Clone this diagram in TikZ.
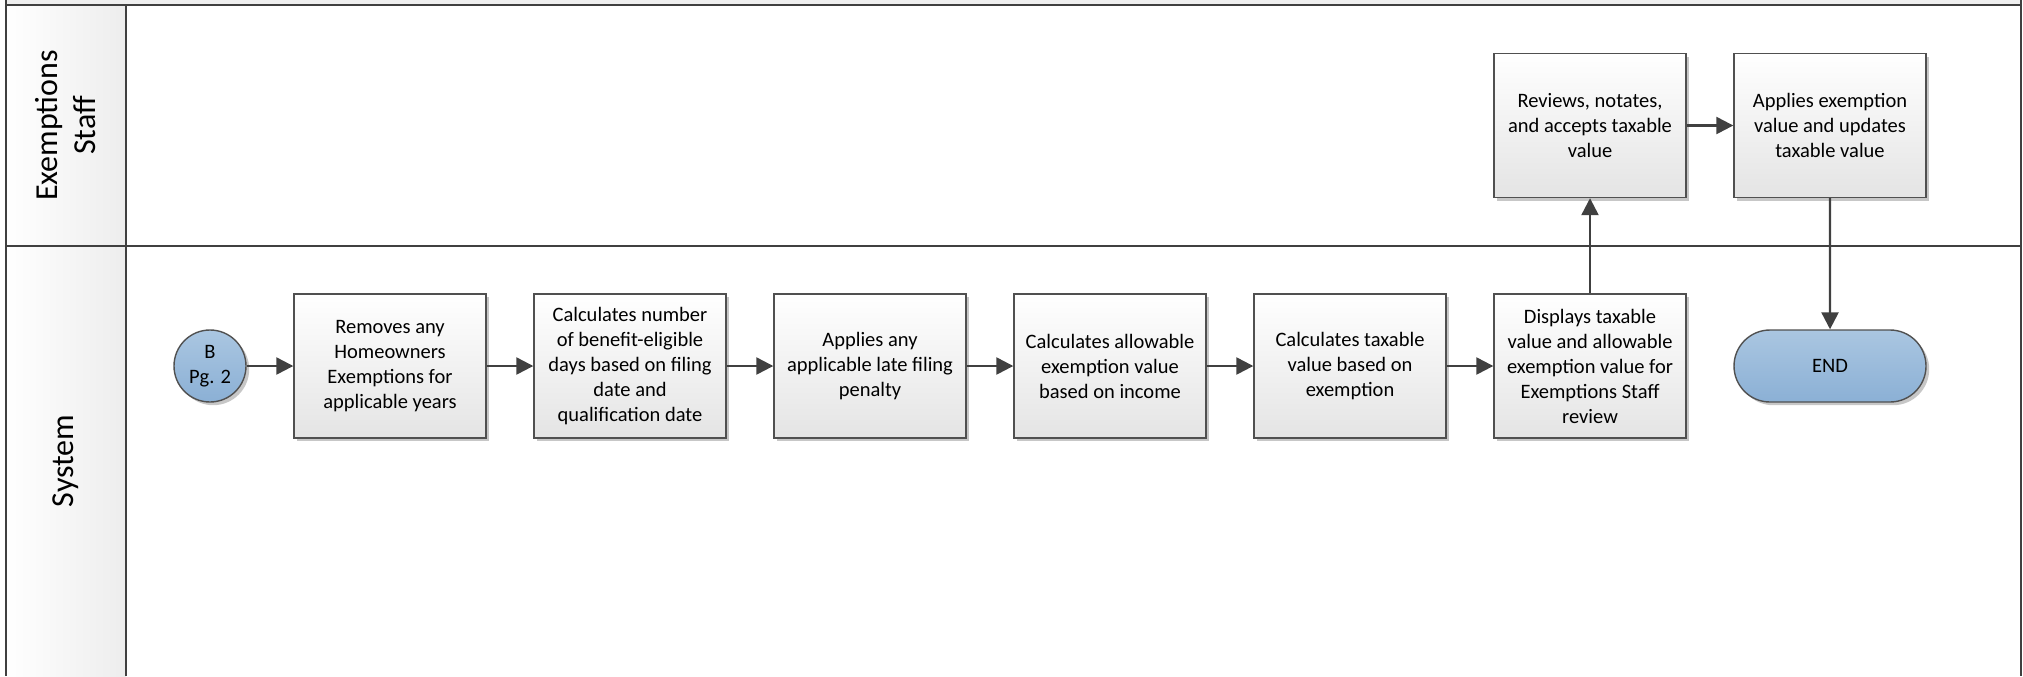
\documentclass[tikz,border=0pt]{standalone}
\usepackage{fontspec}
\setmainfont{Carlito}
\usetikzlibrary{arrows.meta,shadows,shapes.misc}
\definecolor{lineC}{HTML}{404040}
\definecolor{boxBorder}{HTML}{505050}
\definecolor{boxB}{HTML}{E4E4E4}
\definecolor{blueT}{HTML}{AAC6E1}
\definecolor{blueB}{HTML}{8BB0D5}
\definecolor{hdr}{HTML}{EFEFEF}
\definecolor{laneR}{HTML}{EDEDED}
\begin{document}
\begin{tikzpicture}[x=0.5pt,y=-0.5pt,
  frame/.style={draw=lineC, line width=0.9pt},
  boxfont/.style={font=\fontsize{10.25}{12.5}\selectfont},
  proc/.style={boxfont, draw=boxBorder, line width=0.7pt, top color=white, bottom color=boxB,
    minimum width=96pt, minimum height=72pt, align=center, inner sep=0pt,
    drop shadow={shadow xshift=1.6pt, shadow yshift=-1.6pt, opacity=0.22, fill=black}},
  term/.style={boxfont, draw=boxBorder, line width=0.7pt, top color=blueT, bottom color=blueB,
    align=center, inner sep=0pt,
    drop shadow={shadow xshift=1.6pt, shadow yshift=-1.6pt, opacity=0.22, fill=black}},
  lane/.style={font=\fontsize{16}{19}\selectfont, align=center, rotate=90},
  conn/.style={draw=lineC, line width=1.2pt, -{Triangle[length=8.5pt,width=8.5pt]}}
]
\useasboundingbox (0,0) rectangle (2023,676);
% pool / lanes
\fill[hdr] (6,0) rectangle (2021,5);
\shade[left color=white, right color=laneR] (6,5) rectangle (126,676);
\draw[frame] (6,0) -- (6,676);
\draw[frame] (2021,0) -- (2021,676);
\draw[frame] (126,5) -- (126,676);
\draw[frame] (6,5) -- (2021,5);
\draw[frame] (6,246) -- (2021,246);
\node[lane] (l1) at (66,125.5) {Exemptions\\Staff};
\node[lane] (l2) at (66,461) {System};
% nodes
\node[term, circle, minimum size=36pt] (b) at (210,366) {B\\Pg. 2};
\node[proc] (p1) at (390,366) {Removes any\\Homeowners\\Exemptions for\\applicable years};
\node[proc] (p2) at (630,366) {Calculates number\\of benefit-eligible\\days based on filing\\date and\\qualification date};
\node[proc] (p3) at (870,366) {Applies any\\applicable late filing\\penalty};
\node[proc] (p4) at (1110,366) {Calculates allowable\\exemption value\\based on income};
\node[proc] (p5) at (1350,366) {Calculates taxable\\value based on\\exemption};
\node[proc] (p6) at (1590,366) {Displays taxable\\value and allowable\\exemption value for\\Exemptions Staff\\review};
\node[proc] (r1) at (1590,125.5) {Reviews, notates,\\and accepts taxable\\value};
\node[proc] (r2) at (1830,125.5) {Applies exemption\\value and updates\\taxable value};
\node[term, rounded rectangle, minimum width=96pt, minimum height=36pt] (e) at (1830,366) {END};
% connectors
\draw[conn] (b) -- (p1);
\draw[conn] (p1) -- (p2);
\draw[conn] (p2) -- (p3);
\draw[conn] (p3) -- (p4);
\draw[conn] (p4) -- (p5);
\draw[conn] (p5) -- (p6);
\draw[conn] (p6) -- (r1);
\draw[conn] (r1) -- (r2);
\draw[conn] (r2) -- (e);
\end{tikzpicture}
\end{document}
